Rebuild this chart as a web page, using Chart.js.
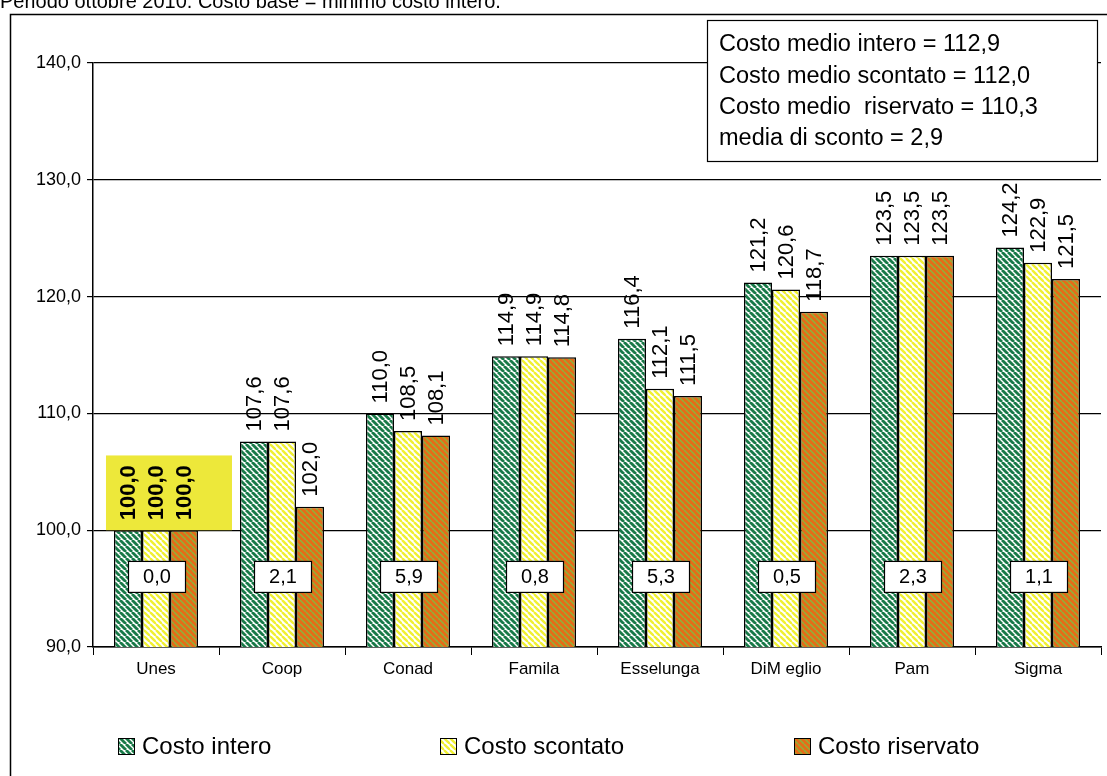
<!DOCTYPE html>
<html>
<head>
<meta charset="utf-8">
<script src="https://cdn.jsdelivr.net/npm/chart.js@4.4.1/dist/chart.umd.min.js"></script>
<style>
  html, body { margin: 0; padding: 0; background: #fff; }
  #wrap { width: 1107px; height: 776px; position: relative; overflow: hidden; }
</style>
</head>
<body>
<div id="wrap"><canvas id="chart" width="1107" height="776"></canvas></div>
<script>
  // Data
  const categories = ['Unes', 'Coop', 'Conad', 'Famila', 'Esselunga', 'DiM eglio', 'Pam', 'Sigma'];
  const costoIntero = [100.0, 107.6, 110.0, 114.9, 116.4, 121.2, 123.5, 124.2];
  const costoScontato = [100.0, 107.6, 108.5, 114.9, 112.1, 120.6, 123.5, 122.9];
  const costoRiservato = [100.0, 102.0, 108.1, 114.8, 111.5, 118.7, 123.5, 121.5];
  const sconto = [0.0, 2.1, 5.9, 0.8, 5.3, 0.5, 2.3, 1.1];
  const seriesNames = ['Costo intero', 'Costo scontato', 'Costo riservato'];
  const summaryLines = [
    'Costo medio intero = 112,9',
    'Costo medio scontato = 112,0',
    'Costo medio  riservato = 110,3',
    'media di sconto = 2,9'
  ];
  const titleText = 'Periodo ottobre 2010. Costo base = minimo costo intero.';

  const FONT = 'Arial, "Liberation Sans", sans-serif';
  const fmt = v => v.toFixed(1).replace('.', ',');

  // striped fill like the old spreadsheet hatch patterns
  function makeStripes(bg, fg, w) {
    const c = document.createElement('canvas');
    c.width = 6; c.height = 6;
    const g = c.getContext('2d');
    g.fillStyle = bg;
    g.fillRect(0, 0, 6, 6);
    g.strokeStyle = fg;
    g.lineWidth = w;
    for (let k = -6; k <= 12; k += 6) {
      g.beginPath();
      g.moveTo(k, 0);
      g.lineTo(k + 6, 6);
      g.stroke();
    }
    return g.createPattern(c, 'repeat');
  }

  const ctx = document.getElementById('chart').getContext('2d');
  const fills = [
    makeStripes('#ffffff', '#187a48', 2.8),
    makeStripes('#ffffff', '#f0f032', 2.4),
    makeStripes('#e56c18', '#8cb43a', 1.4)
  ];

  // extra drawing: frame, title, value labels, discount boxes, summary box, legend
  const decorations = {
    id: 'decorations',
    afterDatasetsDraw(chart) {
      const c = chart.ctx;
      const y = chart.scales.y;
      c.save();

      // outer frame and cut title
      c.strokeStyle = '#000';
      c.lineWidth = 1.5;
      c.beginPath();
      c.moveTo(10.5, 800);
      c.lineTo(10.5, 14.5);
      c.lineTo(1120, 14.5);
      c.stroke();
      c.fillStyle = '#000';
      c.font = '20px ' + FONT;
      c.textBaseline = 'alphabetic';
      c.textAlign = 'left';
      c.fillText(titleText, 0, 8);

      // yellow highlight behind the Unes labels
      const m0 = chart.getDatasetMeta(0).data[0];
      c.fillStyle = '#ede83a';
      c.fillRect(m0.x - m0.width / 2 - 8, y.getPixelForValue(106.4), 126, y.getPixelForValue(100) - y.getPixelForValue(106.4));

      // rotated value labels above each bar
      chart.data.datasets.forEach((ds, di) => {
        chart.getDatasetMeta(di).data.forEach((bar, i) => {
          c.save();
          c.translate(bar.x, bar.y - 10);
          c.rotate(-Math.PI / 2);
          c.fillStyle = '#000';
          c.font = (i === 0 ? 'bold ' : '') + '22px ' + FONT;
          c.textAlign = 'left';
          c.textBaseline = 'middle';
          c.fillText(fmt(ds.data[i]), 0, 1);
          c.restore();
        });
      });

      // discount boxes
      c.font = '20px ' + FONT;
      c.textAlign = 'center';
      c.textBaseline = 'middle';
      sconto.forEach((v, i) => {
        const cx = chart.getDatasetMeta(1).data[i].x + 1;
        const cy = y.getPixelForValue(96);
        c.fillStyle = '#fff';
        c.fillRect(cx - 29, cy - 16, 58, 32);
        c.lineWidth = 1.2;
        c.strokeStyle = '#000';
        c.strokeRect(cx - 29 + 0.5, cy - 16 + 0.5, 57, 31);
        c.fillStyle = '#000';
        c.fillText(fmt(v), cx, cy + 1);
      });

      // summary box
      c.fillStyle = '#fff';
      c.fillRect(707, 20, 391, 142);
      c.lineWidth = 1.2;
      c.strokeStyle = '#000';
      c.strokeRect(707.5, 20.5, 390, 141);
      c.fillStyle = '#000';
      c.font = '23.5px ' + FONT;
      c.textAlign = 'left';
      summaryLines.forEach((t, i) => c.fillText(t, 719, 45 + i * 31.3));

      // legend
      const lx = [118, 440, 794];
      seriesNames.forEach((name, i) => {
        c.fillStyle = fills[i];
        c.fillRect(lx[i], 738, 17, 17);
        c.strokeStyle = '#000';
        c.lineWidth = 1;
        c.strokeRect(lx[i] + 0.5, 738.5, 16, 16);
        c.fillStyle = '#000';
        c.font = '24px ' + FONT;
        c.textAlign = 'left';
        c.fillText(name, lx[i] + 24, 747);
      });

      c.restore();
    }
  };

  new Chart(ctx, {
    type: 'bar',
    data: {
      labels: categories,
      datasets: [
        { label: seriesNames[0], data: costoIntero, backgroundColor: fills[0], borderColor: '#000', borderWidth: 1.5, borderSkipped: false },
        { label: seriesNames[1], data: costoScontato, backgroundColor: fills[1], borderColor: '#000', borderWidth: 1.5, borderSkipped: false },
        { label: seriesNames[2], data: costoRiservato, backgroundColor: fills[2], borderColor: '#000', borderWidth: 1.5, borderSkipped: false }
      ]
    },
    options: {
      responsive: false,
      animation: false,
      layout: { padding: { left: 0, top: 63, right: 6, bottom: 89 } },
      datasets: { bar: { categoryPercentage: 0.667, barPercentage: 1 } },
      plugins: {
        legend: { display: false },
        tooltip: { enabled: false }
      },
      scales: {
        x: {
          offset: true,
          afterFit: s => { s.height = 40; },
          grid: { drawOnChartArea: false, drawTicks: true, tickLength: 8, color: '#000', offset: true },
          border: { color: '#000', width: 1.5 },
          ticks: { color: '#000', font: { size: 17, family: FONT }, padding: 4 }
        },
        y: {
          min: 90,
          max: 140,
          afterFit: s => { s.width = 93; },
          grid: { color: '#000', lineWidth: 1.2, tickLength: 6 },
          border: { color: '#000', width: 1.5 },
          ticks: { stepSize: 10, color: '#000', padding: 6, callback: v => fmt(v), font: { size: 18, family: FONT } }
        }
      }
    },
    plugins: [decorations]
  });
</script>
</body>
</html>
